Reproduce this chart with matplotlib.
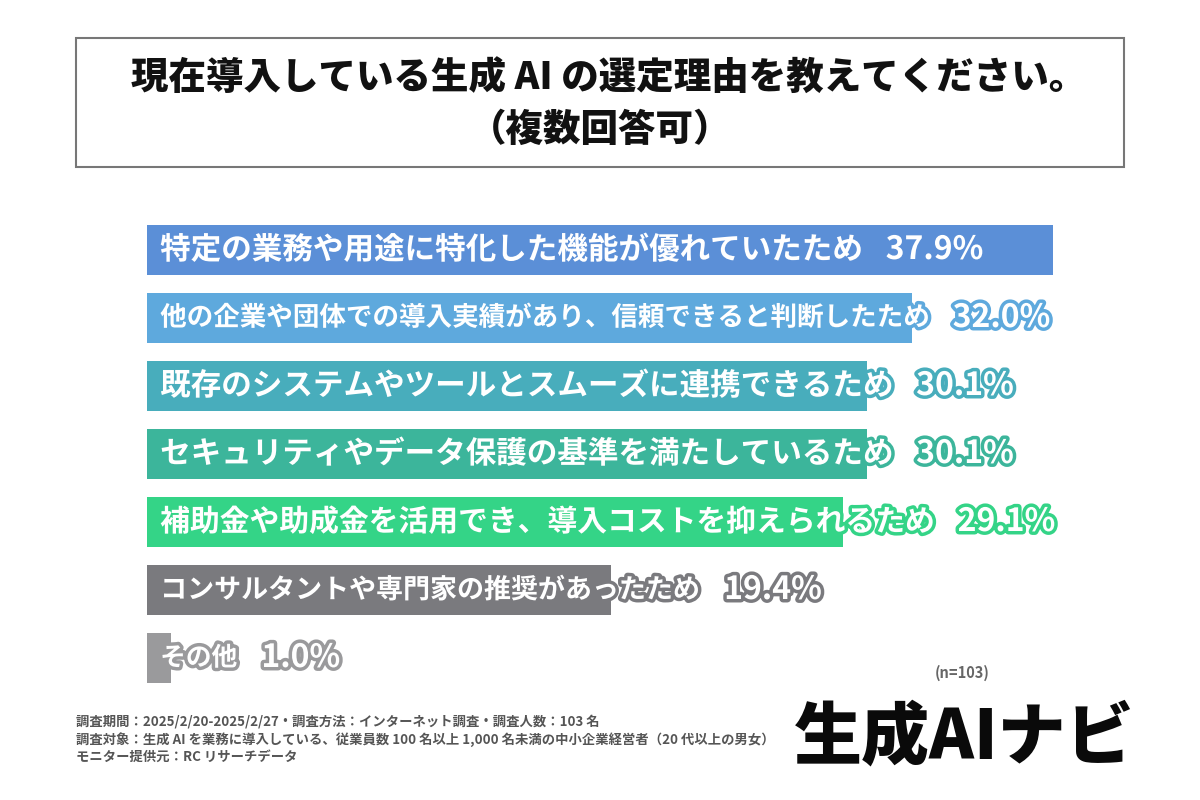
import matplotlib.pyplot as plt
import matplotlib.patheffects as pe
from matplotlib.patches import Rectangle

plt.rcParams['font.family'] = ['Noto Sans CJK JP', 'DejaVu Sans']

# data
labels = [
    '特定の業務や用途に特化した機能が優れていたため',
    '他の企業や団体での導入実績があり、信頼できると判断したため',
    '既存のシステムやツールとスムーズに連携できるため',
    'セキュリティやデータ保護の基準を満たしているため',
    '補助金や助成金を活用でき、導入コストを抑えられるため',
    'コンサルタントや専門家の推奨があったため',
    'その他',
]
values = [37.9, 32.0, 30.1, 30.1, 29.1, 19.4, 1.0]
colors = ['#5b8fd7', '#5ea9dd', '#48adbc', '#3cb59b', '#34d487', '#7a7a7e', '#9a9a9c']
# label widths in the original (px); its font has proportional kana
label_px = [705, 770, 738, 737, 775, 540, 77]

W, H = 1200, 800
fig = plt.figure(figsize=(12, 8), dpi=100)
fig.patch.set_facecolor('white')


def fx(px):
    return px / W


def fy(py):
    return 1 - py / H


# title box
fig.patches.append(Rectangle((fx(76), fy(167)), fx(1124 - 76), (167 - 38) / H,
                             transform=fig.transFigure, fill=False,
                             edgecolor='#777777', linewidth=1.5))
fig.text(fx(609), fy(79), '現在導入している生成 AI の選定理由を教えてください。',
         ha='center', va='center', fontsize=27, fontweight='heavy', color='#111111')
fig.text(fx(600), fy(130), '（複数回答可）',
         ha='center', va='center', fontsize=27, fontweight='heavy', color='#111111')

# bar area
top, bottom = 216, 692
ax = fig.add_axes([fx(147), fy(bottom), fx(1053 - 147), (bottom - top) / H])
ypos = list(range(len(values)))
ax.barh(ypos, values, height=50 / 68, color=colors, edgecolor='none')
ax.set_xlim(0, 37.9)
ax.set_ylim(len(values) - 0.5, -0.5)
ax.axis('off')

renderer = fig.canvas.get_renderer()
base = 21.5
for i, (lab, v, c, tw) in enumerate(zip(labels, values, colors, label_px)):
    stroke = [pe.withStroke(linewidth=5, foreground=c)]
    t = ax.text(0.55, i, lab, ha='left', va='center', fontsize=base,
                fontweight='bold', color='white', clip_on=False, path_effects=stroke)
    w = t.get_window_extent(renderer).width
    fs = max(18.5, min(22.0, base * tw / w))
    t.set_fontsize(fs)
    end_px = t.get_window_extent(renderer).x1
    x_data = ax.transData.inverted().transform((end_px + 24, 0))[0]
    ax.text(x_data, i, f'{v:.1f}%', ha='left', va='center', fontsize=23,
            fontweight='bold', color='white', clip_on=False, path_effects=stroke)

fig.text(fx(962), fy(673), '(n=103)', ha='center', va='center',
         fontsize=10.5, fontweight='bold', color='#666666')

# footer
notes = [
    '調査期間：2025/2/20-2025/2/27・調査方法：インターネット調査・調査人数：103 名',
    '調査対象：生成 AI を業務に導入している、従業員数 100 名以上 1,000 名未満の中小企業経営者（20 代以上の男女）',
    'モニター提供元：RC リサーチデータ',
]
for k, line in enumerate(notes):
    fig.text(fx(76), fy(722 + k * 17.5), line, ha='left', va='center',
             fontsize=9.6, fontweight='bold', color='#555555')

fig.text(fx(1135), fy(738), '生成AIナビ', ha='right', va='center',
         fontsize=49, fontweight='heavy', color='#0a0a0a')

fig.savefig('out.png', dpi=100)
